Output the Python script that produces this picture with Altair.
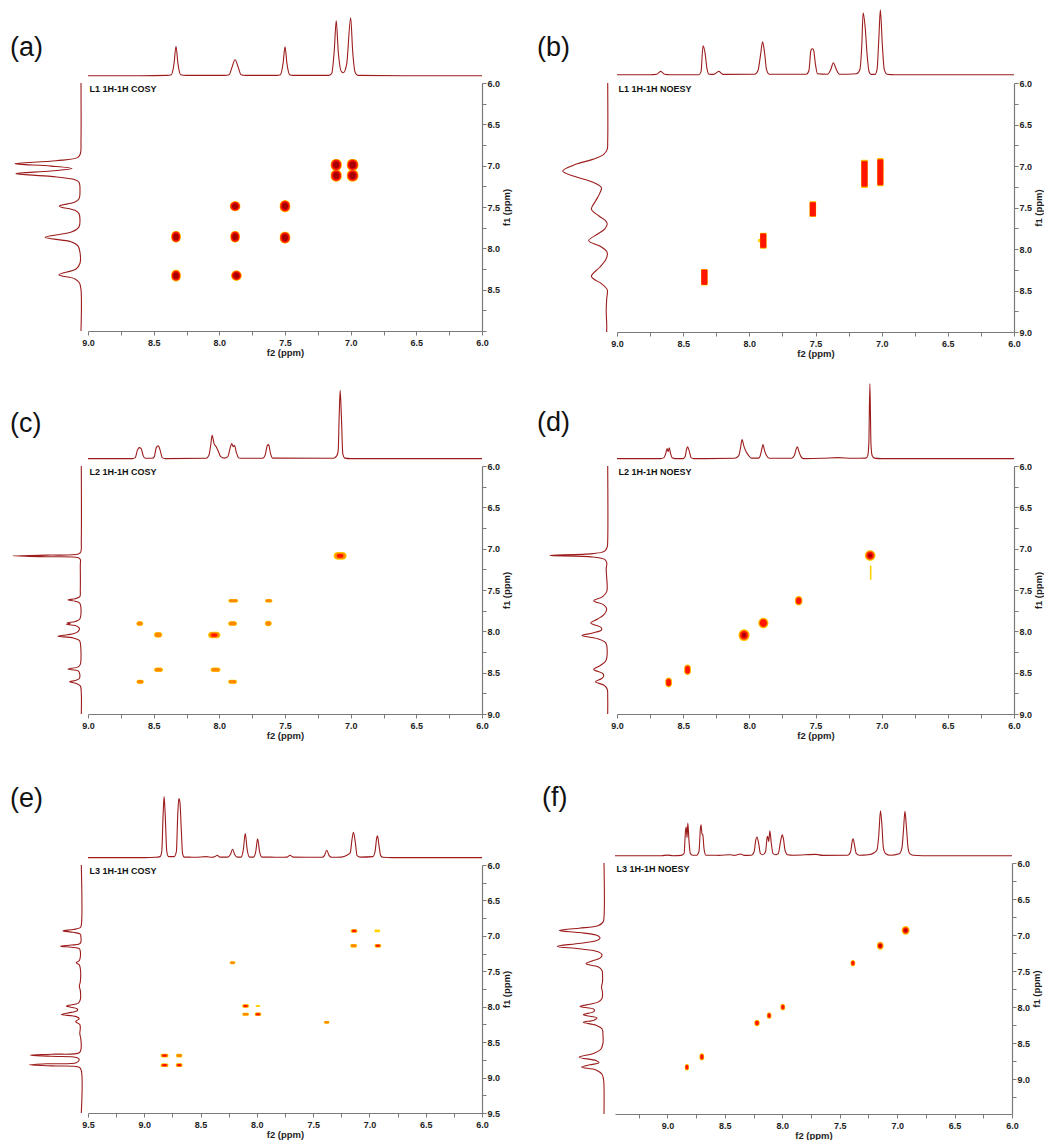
import altair as alt
import pandas as pd

FONT = "Liberation Sans"
LINE_COLOR = "#9c1c1c"
AX_GRAY = "#7a7a7a"
TXT = "#1e1e1e"
BLOB_COLORS = ["#ffd200", "#ff8a00", "#ff1500", "#a80000"]

TOTAL_W = 926
TOTAL_H = 1031

# ---------------- 1D projections: (ppm, intensity in px) ----------------
A_TOP = [(9.0,0),(8.6,0),(8.40,0.3),(8.365,1),(8.345,12),(8.33,29.5),(8.315,12),(8.295,1),(8.25,0.3),
         (7.96,0.3),(7.925,1),(7.905,8),(7.88,16),(7.855,8),(7.835,1),(7.80,0.3),(7.56,0.3),(7.535,1),
         (7.515,12),(7.50,29),(7.485,12),(7.465,1),(7.44,0.3),(7.17,0.3),(7.145,2),(7.125,25),(7.11,55),
         (7.095,25),(7.07,4),(7.055,3),(7.03,12),(7.0,58),(6.985,25),(6.965,3),(6.945,0.3),(6.6,0),(6.0,0)]
A_LEFT = [(6.0,0),(6.7,0),(6.85,0.5),(6.9,3),(6.94,25),(6.976,66),(7.005,30),(7.035,9),(7.065,30),
          (7.097,65),(7.13,30),(7.17,6),(7.2,2),(7.3,1),(7.40,2),(7.44,6),(7.49,21.7),(7.54,6),(7.58,2),
          (7.66,1),(7.74,2),(7.80,9),(7.867,36),(7.92,10),(7.97,3),(8.05,1),(8.18,1),(8.25,5),(8.32,22),
          (8.37,6),(8.42,1.5),(8.5,0),(9.0,0)]
B_TOP = [(9.0,0),(8.75,0),(8.70,0.5),(8.67,3.3),(8.64,0.5),(8.60,0),(8.38,0),(8.365,3),(8.35,29),(8.335,22),
         (8.32,6),(8.305,0.5),(8.27,0.3),(8.23,3.3),(8.20,0.3),(7.96,0.5),(7.935,4),(7.915,20),(7.90,33),
         (7.885,22),(7.87,5),(7.85,0.5),(7.57,0.5),(7.55,4),(7.535,24),(7.525,26),(7.515,25),(7.50,10),
         (7.485,1),(7.41,0.5),(7.385,5),(7.365,12),(7.345,6),(7.32,0.5),(7.19,1),(7.165,5),(7.15,30),
         (7.14,62),(7.125,48),(7.11,20),(7.095,3),(7.08,0.3),(7.05,0.3),(7.035,5),(7.02,40),(7.01,65),
         (6.995,30),(6.98,5),(6.96,0.5),(6.9,0),(6.0,0)]
B_LEFT = [(6.0,0),(6.7,0),(6.80,0.5),(6.86,4),(6.92,15),(6.98,32),(7.06,45),(7.13,32),(7.19,16),(7.26,6.3),
          (7.33,8),(7.42,12),(7.52,16.3),(7.60,9),(7.66,2),(7.70,0.5),(7.76,3),(7.82,10),(7.90,19),(7.97,7),
          (8.03,1),(8.06,0.3),(8.13,2),(8.22,8),(8.33,16.3),(8.42,6),(8.49,0.5),(8.6,1),(8.75,1.5),(8.9,1),(9.0,1)]
C_TOP = [(9.0,0),(8.66,0),(8.64,1),(8.625,8),(8.61,11),(8.595,10),(8.58,3),(8.565,0.3),(8.51,0.3),(8.495,2),
         (8.48,11),(8.465,12.7),(8.45,8),(8.435,1),(8.41,0),(8.10,0.3),(8.08,3),(8.065,14),(8.055,23.3),
         (8.04,15),(8.025,12),(8.01,8),(7.99,2),(7.96,0.5),(7.935,2),(7.915,12),(7.905,15),(7.895,12),
         (7.885,13.3),(7.87,6),(7.855,1),(7.84,0.3),(7.67,0.3),(7.65,4),(7.635,13),(7.625,14),(7.61,5),
         (7.595,0.5),(7.13,0.3),(7.105,3),(7.095,8),(7.088,40),(7.08,68.3),(7.07,40),(7.06,5),(7.045,0.5),
         (7.0,0),(6.0,0)]
C_LEFT = [(6.0,0),(6.9,0),(7.04,0.5),(7.065,3),(7.078,35),(7.087,68.3),(7.097,35),(7.11,3),(7.13,1),(7.2,1),
          (7.5,1),(7.58,1.5),(7.605,6),(7.62,13.3),(7.635,6),(7.66,1.5),(7.85,1.5),(7.88,6),(7.895,14),
          (7.905,11),(7.915,15),(7.93,6),(7.96,2),(8.00,3),(8.03,8),(8.058,23.3),(8.08,8),(8.11,2),(8.14,1),
          (8.40,1),(8.43,3),(8.457,13.3),(8.48,3),(8.52,1.5),(8.57,2),(8.595,6),(8.61,11.7),(8.63,5),
          (8.66,1),(8.75,0),(9.0,0)]
D_TOP = [(9.0,0),(8.67,0),(8.645,1),(8.63,6),(8.622,10),(8.613,7),(8.605,10.7),(8.595,5),(8.58,0.5),
         (8.56,0),(8.50,0),(8.485,2),(8.475,9),(8.467,11.7),(8.455,8),(8.44,1),(8.42,0),(8.11,0.3),(8.08,3),
         (8.065,12),(8.055,19),(8.04,12),(8.025,7),(8.005,3),(7.985,0.5),(7.93,0.5),(7.915,4),(7.905,10),
         (7.897,14),(7.885,8),(7.87,3),(7.85,0.3),(7.68,0.3),(7.66,3),(7.645,10),(7.637,11.7),(7.625,7),
         (7.61,2),(7.59,0),(7.45,0.3),(7.33,1),(7.22,0.3),(7.12,0.5),(7.105,3),(7.097,15),(7.089,75),
         (7.081,15),(7.072,3),(7.055,0.5),(7.0,0),(6.0,0)]
D_LEFT = [(6.0,0),(6.9,0),(6.98,0.5),(7.03,3),(7.06,15),(7.082,58),(7.10,15),(7.13,3),(7.17,1),(7.25,1.5),
          (7.35,1),(7.45,0.5),(7.52,1),(7.58,5),(7.63,14),(7.68,4),(7.73,1),(7.80,4),(7.85,10),(7.90,17),
          (7.95,7),(7.98,6),(8.02,15),(8.05,25.7),(8.09,10),(8.14,2),(8.25,0.5),(8.36,2),(8.41,7),(8.46,14),
          (8.51,5),(8.54,4),(8.57,6),(8.61,12.3),(8.65,4),(8.70,0.5),(8.8,0),(9.0,0)]
E_TOP = [(9.5,0),(9.0,0),(8.90,0.3),(8.86,1),(8.845,6),(8.832,45),(8.824,61),(8.815,45),(8.80,6),(8.785,1),
         (8.76,1),(8.735,1),(8.715,6),(8.702,45),(8.693,59),(8.683,55),(8.672,30),(8.66,4),(8.645,0.5),
         (8.60,0.5),(8.55,0.3),(8.45,1),(8.40,0.3),(8.375,0.8),(8.352,2.3),(8.33,0.5),(8.26,0.5),(8.235,3),
         (8.216,8.3),(8.197,3),(8.175,0.5),(8.14,0.5),(8.12,8),(8.103,24),(8.086,8),(8.065,0.5),(8.03,0.5),
         (8.01,6),(7.993,18.7),(7.976,6),(7.955,0.5),(7.88,0.5),(7.80,0.3),(7.73,0.5),(7.705,2.3),(7.68,0.5),
         (7.42,0.3),(7.40,2),(7.379,7.3),(7.358,2),(7.335,0.3),(7.25,0.5),(7.20,2.3),(7.17,5),(7.155,18),
         (7.142,25.3),(7.125,15),(7.11,2),(7.08,0.5),(6.97,1),(6.95,6),(6.935,20),(6.928,21.7),(6.915,12),
         (6.9,2),(6.88,0.3),(6.8,0),(6.0,0)]
E_LEFT = [(6.0,0),(6.85,0),(6.885,1),(6.91,8),(6.93,18.3),(6.95,8),(6.975,1),(7.0,0.5),(7.09,0.5),(7.115,2),
          (7.13,10),(7.145,20.7),(7.16,10),(7.18,2),(7.22,1),(7.30,1),(7.35,2),(7.38,5),(7.41,2),(7.46,1),
          (7.65,1),(7.71,2),(7.77,1),(7.90,1),(7.95,3),(7.99,15),(8.03,4),(8.055,4),(8.08,10),(8.11,20),
          (8.14,5),(8.17,2),(8.21,5.7),(8.25,1.5),(8.30,1),(8.38,1.5),(8.45,0.5),(8.60,0.3),(8.65,2),
          (8.67,30),(8.685,51),(8.70,30),(8.72,4),(8.75,2),(8.79,5),(8.805,35),(8.82,52),(8.835,30),
          (8.855,2),(8.9,0),(9.5,0)]
F_TOP = [(9.456,0),(9.05,0),(9.0,0.6),(8.95,0),(8.88,0.3),(8.855,2),(8.842,25),(8.836,28.7),(8.829,18),
         (8.822,32.7),(8.812,15),(8.80,2),(8.78,0.5),(8.745,0.5),(8.725,4),(8.712,28),(8.707,31),(8.699,22),
         (8.692,21),(8.68,6),(8.665,0.5),(8.60,0.5),(8.55,0.3),(8.454,1),(8.42,0.3),(8.361,1.7),(8.33,0.3),
         (8.27,0.5),(8.245,4),(8.23,16),(8.22,18.7),(8.205,12),(8.19,2),(8.17,1),(8.145,4),(8.132,18),
         (8.127,19.3),(8.118,14),(8.108,25),(8.095,12),(8.08,2),(8.06,1),(8.035,2),(8.015,14),(8.0,21),
         (7.99,17),(7.975,5),(7.955,1),(7.90,0.5),(7.705,1.3),(7.65,0.3),(7.43,0.5),(7.405,4),(7.39,15),
         (7.383,17),(7.37,10),(7.355,2),(7.33,0.5),(7.25,1),(7.20,3),(7.175,6),(7.16,20),(7.145,45),
         (7.132,30),(7.12,8),(7.10,2),(7.06,0.5),(6.98,2),(6.958,8),(6.945,25),(6.932,44.3),(6.92,30),
         (6.905,8),(6.89,2),(6.86,0.5),(6.7,0),(6.0,0)]
F_LEFT = [(6.0,0),(6.75,0),(6.82,1),(6.87,6),(6.905,25),(6.935,44.7),(6.965,25),(7.00,8),(7.04,4),(7.08,8),
          (7.12,28),(7.157,46.7),(7.19,25),(7.23,6),(7.27,2),(7.32,4),(7.36,12),(7.398,18),(7.44,6),(7.49,2),
          (7.55,1.5),(7.65,1.5),(7.72,2.5),(7.80,1.5),(7.88,2),(7.93,6),(7.96,14),(7.99,24),(8.03,10),
          (8.06,10),(8.106,20.7),(8.15,7),(8.18,10),(8.21,20.7),(8.25,8),(8.30,2),(8.40,1),(8.50,1),(8.58,3),
          (8.64,10),(8.694,24.7),(8.74,8),(8.77,5),(8.80,14),(8.833,22.3),(8.87,8),(8.93,2),(9.0,0.5),
          (9.1,0),(9.482,0)]

# ---------------- 2D cross peaks: (f2 ppm, f1 ppm, half width f2, half width f1, level) ----------------
A_PEAKS = [(8.33,8.33,0.036,0.07,4),(7.87,8.33,0.04,0.062,4),(8.33,7.86,0.036,0.07,4),(7.88,7.86,0.036,0.07,4),
           (7.50,7.87,0.04,0.072,4),(7.88,7.49,0.04,0.06,4),(7.50,7.49,0.04,0.072,4),(7.11,6.99,0.042,0.072,4),
           (6.985,6.99,0.044,0.072,4),(7.11,7.12,0.042,0.072,4),(6.985,7.12,0.044,0.072,4)]
B_PEAKS = [(8.34,8.34,0.025,0.10,3),(7.925,7.90,0.01,0.02,1),(7.895,7.90,0.025,0.096,3),(7.52,7.52,0.025,0.094,3),
           (7.13,7.095,0.025,0.17,3),(7.01,7.075,0.024,0.17,3),(6.995,7.03,0.01,0.025,1)]
C_PEAKS = [(7.08,7.087,0.05,0.046,3),(7.894,7.63,0.038,0.022,2),(7.624,7.63,0.028,0.022,2),
           (8.606,7.905,0.026,0.028,2),(7.899,7.905,0.034,0.028,2),(7.627,7.905,0.026,0.032,2),
           (8.466,8.042,0.032,0.034,2),(8.039,8.045,0.047,0.04,3),(8.463,8.465,0.034,0.026,2),
           (8.029,8.465,0.038,0.026,2),(8.603,8.61,0.028,0.024,2),(7.899,8.61,0.034,0.024,2)]
D_PEAKS = [(7.087,7.083,0.04,0.065,4),(7.083,7.29,0.006,0.09,1),(7.627,7.63,0.028,0.058,3),
           (7.894,7.90,0.038,0.064,3),(8.04,8.046,0.041,0.072,4),(8.467,8.465,0.025,0.064,3),
           (8.61,8.618,0.025,0.06,3)]
E_PEAKS = [(7.136,6.93,0.03,0.025,3),(6.93,6.93,0.025,0.018,1),(7.14,7.14,0.03,0.025,2),(6.925,7.14,0.03,0.025,3),
           (8.216,7.38,0.025,0.02,2),(8.10,7.99,0.03,0.025,3),(7.99,7.99,0.02,0.015,1),(8.10,8.107,0.03,0.022,2),
           (7.99,8.107,0.03,0.025,3),(7.38,8.22,0.025,0.02,2),(8.82,8.69,0.035,0.025,3),(8.69,8.69,0.028,0.025,2),
           (8.82,8.825,0.035,0.025,3),(8.69,8.825,0.03,0.027,3)]
F_PEAKS = [(8.83,8.833,0.018,0.046,3),(8.70,8.69,0.02,0.05,3),(8.22,8.22,0.023,0.046,3),(8.114,8.116,0.02,0.046,3),
           (7.995,8.0,0.02,0.046,3),(7.385,7.39,0.02,0.046,3),(7.147,7.148,0.029,0.056,4),(6.926,6.935,0.035,0.06,4)]

LABELS = ["(a)", "(b)", "(c)", "(d)", "(e)", "(f)"]
TITLES = ["L1 1H-1H COSY", "L1 1H-1H NOESY", "L2 1H-1H COSY", "L2 1H-1H NOESY", "L3 1H-1H COSY", "L3 1H-1H NOESY"]

# layout (pixels relative to the top-left of panel (a)'s plot area); bs = relative size of colour rings
PANELS = [
    dict(top=A_TOP, left=A_LEFT, peaks=A_PEAKS, xr=(0, 394), yr=(0, 248), xd=(9.0, 6.0), yd=(6.0, 9.0),
         tg=7.3, lg=7.0, xlab=9.0, ylab=8.5, rad=5, lp=(-78, -27), bs=[1.0, 0.94, 0.86, 0.6]),
    dict(top=B_TOP, left=B_LEFT, peaks=B_PEAKS, xr=(529, 926), yr=(0, 249), xd=(9.0, 6.0), yd=(6.0, 9.0),
         tg=8.3, lg=9.3, xlab=9.0, ylab=9.0, rad=1, lp=(449, -27), bs=[1.0, 0.95, 0.9, 0.5]),
    dict(top=C_TOP, left=C_LEFT, peaks=C_PEAKS, xr=(0, 394), yr=(383, 631), xd=(9.0, 6.0), yd=(6.0, 9.0),
         tg=7.4, lg=6.7, xlab=9.0, ylab=9.0, rad=4, lp=(-78, 349), bs=[1.0, 0.85, 0.5, 0.3]),
    dict(top=D_TOP, left=D_LEFT, peaks=D_PEAKS, xr=(529, 926), yr=(383, 631), xd=(9.0, 6.0), yd=(6.0, 9.0),
         tg=7.4, lg=9.3, xlab=9.0, ylab=9.0, rad=6, lp=(449, 348), bs=[1.0, 0.88, 0.7, 0.4]),
    dict(top=E_TOP, left=E_LEFT, peaks=E_PEAKS, xr=(0, 394), yr=(782, 1030), xd=(9.5, 6.0), yd=(6.0, 9.5),
         tg=7.4, lg=6.7, xlab=9.5, ylab=9.5, rad=1.5, lp=(-78, 724), bs=[1.0, 0.85, 0.6, 0.3]),
    dict(top=F_TOP, left=F_LEFT, peaks=F_PEAKS, xr=(527, 924), yr=(780, 1031), xd=(9.456, 6.0), yd=(6.0, 9.482),
         tg=7.3, lg=11.0, xlab=9.0, ylab=9.0, rad=4, lp=(454, 723), bs=[1.0, 0.85, 0.65, 0.35]),
]


def ticks(hi):
    out = []
    v = 6.0
    while v <= hi + 1e-9:
        out.append(round(v, 2))
        v += 0.25
    return out


def label_expr(maxlab):
    return ("(abs(datum.value*2 - round(datum.value*2)) < 0.01 && datum.value <= %.3f) "
            "? format(datum.value, '.1f') : ''" % (maxlab + 0.001))


axis_style = dict(domainColor=AX_GRAY, domainWidth=1.2, tickColor=AX_GRAY, tickSize=4, tickWidth=1,
                  labelFont=FONT, labelFontWeight="bold", labelFontSize=9, labelColor=TXT,
                  titleFont=FONT, titleFontWeight="bold", titleFontSize=9.5, titleColor=TXT,
                  grid=False, labelFlush=False, labelOverlap=False)

layers = []
for i, p in enumerate(PANELS):
    x0, x1 = p["xr"]
    y0, y1 = p["yr"]
    xs = alt.Scale(domain=list(p["xd"]), range=[x0, x1], nice=False, zero=False)
    ys = alt.Scale(domain=list(p["yd"]), range=[y0, y1], nice=False, zero=False)

    rows = []
    for (cx, cy, wx, wy, lvl) in p["peaks"]:
        for k in range(lvl):
            s = p["bs"][k]
            rows.append(dict(k=k, xa=cx + wx * s, xb=cx - wx * s, ya=cy - wy * s, yb=cy + wy * s,
                             c=BLOB_COLORS[k]))
    pk = pd.DataFrame(rows).sort_values("k", kind="stable")

    xaxis = alt.Axis(orient="bottom", offset=y1 - TOTAL_H, values=ticks(max(p["xd"])),
                     labelExpr=label_expr(p["xlab"]), title="f2 (ppm)", labelPadding=3, titlePadding=0,
                     **axis_style)
    yaxis = alt.Axis(orient="right", offset=x1 - TOTAL_W, values=ticks(max(p["yd"])),
                     labelExpr=label_expr(p["ylab"]), title="f1 (ppm)", titleAngle=270, titleBaseline="top",
                     labelPadding=1, titlePadding=2, **axis_style)

    layers.append(
        alt.Chart(pk).mark_rect(cornerRadius=p["rad"]).encode(
            x=alt.X("xa:Q", scale=xs, axis=xaxis), x2="xb:Q",
            y=alt.Y("ya:Q", scale=ys, axis=yaxis), y2="yb:Q",
            color=alt.Color("c:N", scale=None))
    )

    top = pd.DataFrame(p["top"], columns=["ppm", "inten"])
    layers.append(
        alt.Chart(top).mark_line(color=LINE_COLOR, strokeWidth=1.1, interpolate="monotone").encode(
            x=alt.X("ppm:Q", scale=xs, axis=None),
            y=alt.Y("inten:Q", scale=alt.Scale(domain=[0, 100], range=[y0 - p["tg"], y0 - p["tg"] - 100],
                                               nice=False, zero=False), axis=None),
            order=alt.Order("ppm:Q", sort="descending"))
    )

    left = pd.DataFrame(p["left"], columns=["ppm", "inten"])
    layers.append(
        alt.Chart(left).mark_line(color=LINE_COLOR, strokeWidth=1.1, interpolate="catmull-rom").encode(
            x=alt.X("inten:Q", scale=alt.Scale(domain=[0, 100], range=[x0 - p["lg"], x0 - p["lg"] - 100],
                                               nice=False, zero=False), axis=None),
            y=alt.Y("ppm:Q", scale=ys, axis=None),
            order=alt.Order("ppm:Q", sort="ascending"))
    )

    layers.append(
        alt.Chart(pd.DataFrame({"t": [TITLES[i]]})).mark_text(
            font=FONT, fontSize=9, fontWeight="bold", align="left", baseline="middle", color="#111111"
        ).encode(text="t:N", x=alt.value(x0 + 1.5), y=alt.value(y0 + 6))
    )
    layers.append(
        alt.Chart(pd.DataFrame({"t": [LABELS[i]]})).mark_text(
            font=FONT, fontSize=27, align="left", baseline="alphabetic", color="#111111"
        ).encode(text="t:N", x=alt.value(p["lp"][0]), y=alt.value(p["lp"][1]))
    )

chart = alt.layer(*layers).resolve_scale(x="independent", y="independent").properties(
    width=TOTAL_W, height=TOTAL_H,
    padding={"left": 2, "top": -1, "right": 0, "bottom": 0},
).configure_view(stroke=None)

chart.save("out.html", embed_options={"renderer": "svg", "actions": False})
